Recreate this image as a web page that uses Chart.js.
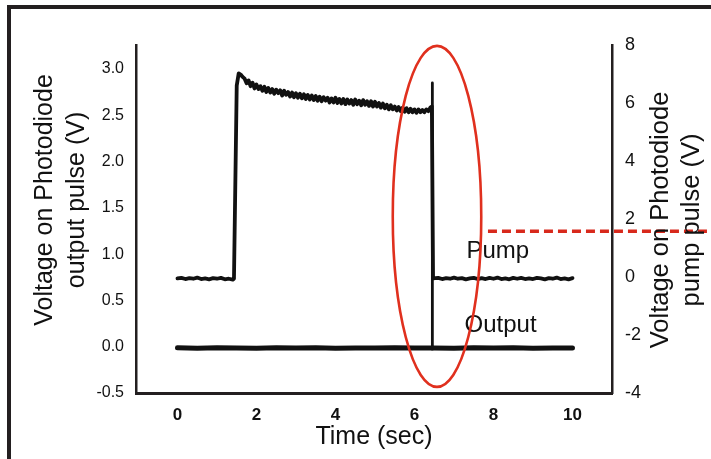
<!DOCTYPE html>
<html>
<head>
<meta charset="utf-8">
<script src="https://cdn.jsdelivr.net/npm/chart.js@4.4.1/dist/chart.umd.min.js"></script>
<style>
  html, body { margin: 0; padding: 0; background: #ffffff; overflow: hidden; }
  #wrap { position: relative; width: 711px; height: 459px; }
  #frame { position: absolute; left: 7px; top: 5px; right: -20px; bottom: -20px;
           border-top: 4px solid #231f20; border-left: 4.5px solid #231f20; pointer-events: none; }
  canvas { position: absolute; left: 0; top: 0; }
</style>
</head>
<body>
<div id="wrap">
  <canvas id="c" width="711" height="459"></canvas>
  <div id="frame"></div>
</div>
<script>
// ---- data ----
const xTicks = [0, 2, 4, 6, 8, 10];
const leftTicks = [-0.5, 0.0, 0.5, 1.0, 1.5, 2.0, 2.5, 3.0];
const rightTicks = [-4, -2, 0, 2, 4, 6, 8];

// Pump pulse (right axis, V)
const pumpTime = [0,0.1,0.2,0.3,0.4,0.5,0.6,0.7,0.8,0.9,1.0,1.1,1.2,1.3,1.4,
  1.43,1.5,1.55,
  1.60,1.65,1.70,1.75,1.80,1.85,1.90,1.95,2.00,2.05,2.10,2.15,2.20,2.25,2.30,2.35,2.40,2.45,
  2.50,2.55,2.60,2.65,2.70,2.75,2.80,2.85,2.90,2.95,3.00,3.05,3.10,3.15,3.20,3.25,3.30,3.35,
  3.40,3.45,3.50,3.55,3.60,3.65,3.70,3.75,3.80,3.85,3.90,3.95,4.00,4.05,4.10,4.15,4.20,4.25,
  4.30,4.35,4.40,4.45,4.50,4.55,4.60,4.65,4.70,4.75,4.80,4.85,4.90,4.95,5.00,5.05,5.10,5.15,
  5.20,5.25,5.30,5.35,5.40,5.45,5.50,5.55,5.60,5.65,5.70,5.75,5.80,5.85,5.90,5.95,6.00,6.05,
  6.10,6.15,6.20,6.25,6.30,6.35,6.40,
  6.44,
  6.47,6.6,6.7,6.8,6.9,7.0,7.1,7.2,7.3,7.4,7.5,7.6,7.7,7.8,7.9,8.0,8.1,8.2,8.3,8.4,
  8.5,8.6,8.7,8.8,8.9,9.0,9.1,9.2,9.3,9.4,9.5,9.6,9.7,9.8,9.9,10.0];
const pumpVolts = [-0.05,-0.03,-0.07,-0.04,-0.06,-0.02,-0.07,-0.05,-0.08,-0.04,-0.06,-0.03,-0.08,-0.06,-0.09,
  -0.06,6.60,7.02,
  6.98,6.90,6.84,6.68,6.78,6.58,6.70,6.50,6.64,6.48,6.58,6.42,6.56,6.38,6.52,6.36,6.48,6.32,
  6.46,6.34,6.44,6.26,6.42,6.28,6.38,6.22,6.36,6.20,6.34,6.18,6.32,6.16,6.30,6.14,6.28,6.12,
  6.26,6.10,6.24,6.08,6.22,6.06,6.20,6.08,6.18,6.02,6.16,6.02,6.18,6.00,6.14,5.98,6.14,5.96,
  6.12,5.98,6.10,5.94,6.12,5.96,6.08,5.92,6.10,5.94,6.06,5.90,6.06,5.88,6.04,5.88,6.00,5.84,
  5.98,5.82,5.94,5.78,5.92,5.78,5.88,5.74,5.86,5.72,5.84,5.70,5.82,5.68,5.80,5.68,5.78,5.66,
  5.78,5.68,5.76,5.68,5.78,5.72,5.84,
  5.88,
  -0.05,-0.03,-0.07,-0.04,-0.06,-0.02,-0.06,-0.04,-0.08,-0.05,-0.03,-0.07,-0.04,-0.07,-0.03,-0.06,
  -0.02,-0.07,-0.05,-0.08,-0.03,-0.06,-0.03,-0.07,-0.05,-0.07,-0.03,-0.05,-0.08,-0.04,-0.06,-0.02,
  -0.07,-0.05,-0.08,-0.04];

// Output pulse (left axis, V)
const outputTime = [0,0.5,1,1.5,2,2.5,3,3.5,4,4.5,5,5.5,6,6.445,6.45,6.455,7,7.5,8,8.5,9,9.5,10];
const outputVolts = [-0.012,-0.016,-0.011,-0.014,-0.017,-0.012,-0.015,-0.011,-0.016,-0.013,-0.015,-0.011,-0.014,
  -0.013,2.85,-0.013,-0.016,-0.012,-0.015,-0.011,-0.016,-0.013,-0.015];

// annotations (data units)
const ellipseCenter = {t: 6.57, v: 2.09};   // right axis units
const ellipseRadius = {t: 1.12, v: 5.88};
const dashedLevel = {tStart: 7.86, v: 1.58};
const seriesLabels = [
  {text: 'Pump',   t: 8.11, v: 0.645},
  {text: 'Output', t: 8.18, v: -1.9}
];

const FONT = "'Liberation Sans', Arial, Helvetica, sans-serif";
const INK = '#111111';
const AXIS = '#231f20';

const annot = {
  id: 'annot',
  afterDatasetsDraw(chart) {
    const {ctx} = chart;
    const x = chart.scales.x, yR = chart.scales.yR;
    ctx.save();
    ctx.fillStyle = INK;
    ctx.font = '24px ' + FONT;
    ctx.textAlign = 'center';
    ctx.textBaseline = 'alphabetic';
    seriesLabels.forEach(l => ctx.fillText(l.text, x.getPixelForValue(l.t), yR.getPixelForValue(l.v)));
    const cx = x.getPixelForValue(ellipseCenter.t);
    const cy = yR.getPixelForValue(ellipseCenter.v);
    const rx = x.getPixelForValue(ellipseCenter.t + ellipseRadius.t) - cx;
    const ry = cy - yR.getPixelForValue(ellipseCenter.v + ellipseRadius.v);
    ctx.strokeStyle = '#e0301e';
    ctx.lineWidth = 2.6;
    ctx.beginPath();
    ctx.ellipse(cx, cy, rx, ry, 0, 0, Math.PI * 2);
    ctx.stroke();
    const dy = yR.getPixelForValue(dashedLevel.v);
    ctx.strokeStyle = '#d8291c';
    ctx.lineWidth = 3.5;
    ctx.setLineDash([9, 5]);
    ctx.beginPath();
    ctx.moveTo(x.getPixelForValue(dashedLevel.tStart), dy);
    ctx.lineTo(chart.width, dy);
    ctx.stroke();
    ctx.setLineDash([]);
    ctx.restore();
  },
  afterDraw(chart) {
    const {ctx} = chart;
    ctx.save();
    ctx.fillStyle = INK;
    ctx.textAlign = 'center';
    ctx.textBaseline = 'middle';
    const drawRot = (text, px, py, size) => {
      ctx.save();
      ctx.translate(px, py);
      ctx.rotate(-Math.PI / 2);
      ctx.font = size + 'px ' + FONT;
      ctx.fillText(text, 0, 0);
      ctx.restore();
    };
    drawRot('Voltage on Photodiode', 45, 200, 25);
    drawRot('output pulse (V)', 77, 200, 25);
    drawRot('Voltage on Photodiode', 661, 220, 25.5);
    drawRot('pump pulse (V)', 692, 220, 25.5);
    ctx.restore();
  }
};

new Chart(document.getElementById('c'), {
  type: 'line',
  data: {
    datasets: [
      {
        label: 'Pump',
        data: pumpTime.map((t, i) => ({x: t, y: pumpVolts[i]})),
        yAxisID: 'yR',
        borderColor: INK, borderWidth: 3.8, pointRadius: 0, tension: 0,
        borderJoinStyle: 'round', borderCapStyle: 'round', fill: false
      },
      {
        label: 'Output',
        data: outputTime.map((t, i) => ({x: t, y: outputVolts[i]})),
        yAxisID: 'yL',
        borderColor: INK, borderWidth: 5, pointRadius: 0, tension: 0,
        borderJoinStyle: 'round', borderCapStyle: 'round', fill: false,
        segment: {
          borderWidth: c => (c.p0DataIndex === 13 || c.p0DataIndex === 14) ? 2.8 : undefined
        }
      }
    ]
  },
  options: {
    responsive: false,
    animation: false,
    devicePixelRatio: 1,
    layout: {padding: {top: 45, left: 0, right: 0, bottom: 0}},
    plugins: {legend: {display: false}, tooltip: {enabled: false}},
    scales: {
      x: {
        type: 'linear', position: 'bottom', min: -1.05, max: 11,
        afterBuildTicks: s => { s.ticks = xTicks.map(v => ({value: v})); },
        afterFit: s => { s.height = 66; },
        grid: {display: false, drawTicks: false},
        border: {display: true, color: AXIS, width: 3},
        ticks: {font: {family: FONT, size: 17, weight: 'bold'}, color: INK, padding: 12,
                callback: v => String(v)},
        title: {display: true, text: 'Time (sec)', color: INK,
                font: {family: FONT, size: 25}, padding: {top: 0, bottom: 7}}
      },
      yL: {
        type: 'linear', position: 'left', min: -0.5, max: 3.26,
        afterBuildTicks: s => { s.ticks = leftTicks.map(v => ({value: v})); },
        afterFit: s => { s.width = 136; },
        grid: {display: false, drawTicks: false},
        border: {display: true, color: AXIS, width: 2.5},
        ticks: {font: {family: FONT, size: 16}, color: INK, padding: 12,
                callback: v => Number(v).toFixed(1)}
      },
      yR: {
        type: 'linear', position: 'right', min: -4, max: 8,
        afterBuildTicks: s => { s.ticks = rightTicks.map(v => ({value: v})); },
        afterFit: s => { s.width = 99; },
        grid: {display: false, drawTicks: false},
        border: {display: true, color: AXIS, width: 2.5},
        ticks: {font: {family: FONT, size: 18}, color: INK, padding: 13,
                callback: v => String(v)}
      }
    }
  },
  plugins: [annot]
});
</script>
</body>
</html>
